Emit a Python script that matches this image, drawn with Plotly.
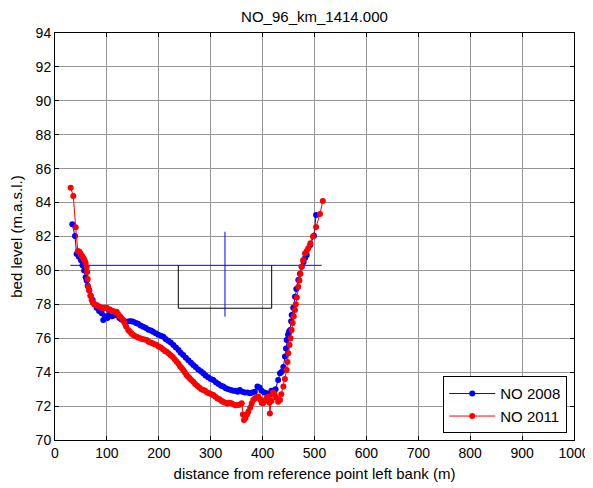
import plotly.graph_objects as go

# NO 2008 survey
x_2008 = [33.4, 38.5, 41.7, 46, 50, 53, 56, 59, 61, 63, 66, 69, 72.5, 76, 80, 85, 90, 93, 97, 101,
          105, 110, 115, 119, 124, 128, 133, 138, 143, 147, 151, 156, 160, 165, 170, 175, 180, 185, 189, 194,
          199, 204, 208.7, 213, 218, 223, 228, 233, 238, 242, 247, 252, 257, 262, 266.5, 271, 276, 281, 285.7, 290,
          295, 300, 305, 310, 315, 320, 324, 329, 334, 339, 343.5, 348, 352, 356, 361, 366, 371, 375.7, 380, 385,
          390, 394, 398, 403, 408, 413, 417, 421, 425, 430, 433.5, 437, 440, 443, 445, 446.4, 449, 451, 453, 455,
          456, 459, 462.4, 465, 468.8, 472, 475.3, 479, 482, 485, 492, 499, 503]
y_2008 = [82.72, 82.03, 80.97, 80.8, 80.6, 80.3, 80.0, 79.6, 79.4, 79.1, 78.85, 78.5, 78.26, 78.0, 77.8, 77.6, 77.47, 77.08, 77.3, 77.2,
          77.4, 77.3, 77.35, 77.37, 77.2, 77.1, 77.0, 76.98, 77.0, 77.0, 76.98, 76.9, 76.85, 76.75, 76.68, 76.6, 76.5, 76.45, 76.39, 76.3,
          76.2, 76.15, 76.09, 75.95, 75.85, 75.75, 75.6, 75.45, 75.3, 75.15, 75.01, 74.85, 74.7, 74.55, 74.42, 74.3, 74.15, 74.05, 73.93, 73.8,
          73.7, 73.6, 73.54, 73.4, 73.3, 73.2, 73.15, 73.05, 73.0, 72.95, 72.91, 72.9, 72.85, 72.95, 72.85, 72.8, 72.8, 72.75, 72.8, 72.85,
          73.15, 73.1, 72.9, 72.8, 72.75, 72.65, 72.9, 72.9, 73.0, 73.54, 73.93, 74.03, 74.3, 74.92, 75.4, 75.9, 76.2, 76.4, 76.49, 77.0,
          77.37, 77.8, 78.45, 78.9, 79.44, 79.8, 80.22, 80.5, 80.75, 80.91, 81.5, 82.05, 83.27]

# NO 2011 survey
x_2011 = [30.2, 35.3, 39.8, 44, 47, 49, 51, 53, 55, 57, 59, 61, 62, 63, 64, 66, 68, 70.6, 73, 76,
          80, 83, 86, 90, 93, 96, 99.6, 103, 106, 109, 112, 116, 119, 122, 125, 128, 131.6, 134, 137, 141,
          144, 147, 150, 153, 157, 160, 164, 168, 172, 176.7, 180, 184, 188, 192, 196, 200, 204, 208, 212, 215,
          219, 223, 227, 231, 234.5, 238, 241, 244, 247, 250, 253, 256, 259, 262, 266.5, 270, 274, 278, 282, 285.7,
          289, 293, 297, 301, 305, 309, 313, 317, 321, 324, 328, 332, 336, 340, 344, 348, 353, 357, 359.7, 362,
          364, 367, 370, 372.5, 376, 379, 382, 385, 388, 391.7, 395, 398, 401, 404, 407, 411, 413, 414, 417, 420,
          423, 426, 430, 433.5, 436, 440, 443, 446.4, 448, 449.5, 452, 454, 456, 458, 460, 462.4, 464, 466, 468.8, 471,
          473, 475.3, 478, 481.7, 485, 488, 492, 497, 503, 510.6, 516]
y_2011 = [84.88, 84.39, 82.54, 81.15, 81.1, 81.0, 80.9, 80.8, 80.7, 80.6, 80.45, 80.2, 79.9, 79.5, 79.04, 78.8, 78.5, 78.26, 78.1, 78.0,
          77.96, 77.9, 77.85, 77.8, 77.75, 77.8, 77.8, 77.7, 77.7, 77.6, 77.6, 77.55, 77.57, 77.4, 77.3, 77.2, 77.08, 76.9, 76.7, 76.49,
          76.4, 76.3, 76.2, 76.15, 76.09, 76.05, 76.0, 75.95, 75.92, 75.9, 75.8, 75.75, 75.7, 75.65, 75.6, 75.5, 75.45, 75.35, 75.25, 75.21,
          75.1, 75.0, 74.9, 74.75, 74.62, 74.5, 74.35, 74.25, 74.13, 74.0, 73.85, 73.75, 73.65, 73.55, 73.44, 73.3, 73.2, 73.1, 73.0, 72.95,
          72.9, 72.8, 72.75, 72.7, 72.66, 72.55, 72.45, 72.4, 72.3, 72.26, 72.2, 72.15, 72.2, 72.17, 72.1, 72.05, 72.07, 72.1, 72.17, 71.5,
          71.18, 71.3, 71.5, 71.67, 71.9, 72.15, 72.36, 72.45, 72.5, 72.56, 72.4, 72.2, 72.17, 72.3, 72.45, 72.56, 72.2, 71.57, 72.3, 72.8,
          72.7, 72.5, 72.26, 72.36, 72.7, 73.15, 73.6, 74.13, 74.6, 75.11, 75.6, 76.0, 76.49, 76.9, 77.3, 77.67, 78.0, 78.4, 79.04, 79.4,
          79.8, 80.22, 80.6, 81.0, 81.15, 81.3, 81.6, 82.0, 82.56, 83.33, 84.1]

# water level line
water_x = [29.5, 514]
water_y = [80.3, 80.3]

# black U-shaped box
box_x = [237.6, 237.6, 417.5, 417.5]
box_y = [80.3, 77.77, 77.77, 80.3]

# vertical blue marker
vline_x = [327.5, 327.5]
vline_y = [82.28, 77.27]

x_ticks = list(range(0, 1001, 100))
y_ticks = list(range(70, 95, 2))

FONT = "Liberation Sans, Arial, sans-serif"

fig = go.Figure()
fig.add_trace(go.Scatter(x=water_x, y=water_y, mode="lines",
                         line=dict(color="#0000ff", width=1), showlegend=False, hoverinfo="skip"))
fig.add_trace(go.Scatter(x=box_x, y=box_y, mode="lines",
                         line=dict(color="black", width=1), showlegend=False, hoverinfo="skip"))
fig.add_trace(go.Scatter(x=vline_x, y=vline_y, mode="lines",
                         line=dict(color="#0000ff", width=1), showlegend=False, hoverinfo="skip"))
fig.add_trace(go.Scatter(x=x_2008, y=y_2008, mode="lines+markers", name="NO 2008",
                         line=dict(color="#0000ff", width=1),
                         marker=dict(color="#0000ff", size=6)))
fig.add_trace(go.Scatter(x=x_2011, y=y_2011, mode="lines+markers", name="NO 2011",
                         line=dict(color="#ff0000", width=1),
                         marker=dict(color="#ff0000", size=6)))

axis_common = dict(showline=True, linecolor="black", linewidth=1, mirror="ticks",
                   ticks="inside", ticklen=4, tickcolor="black", automargin=False,
                   showgrid=True, gridcolor="rgb(150,150,150)", gridwidth=1,
                   zeroline=False, tickfont=dict(size=14, color="black", family=FONT))

fig.update_xaxes(range=[0, 1000], tickvals=x_ticks,
                 title=dict(text="distance from reference point left bank (m)",
                            font=dict(size=15, color="black", family=FONT), standoff=8),
                 **axis_common)
fig.update_yaxes(range=[70, 94], tickvals=y_ticks,
                 title=dict(text="bed level (m.a.s.l.)",
                            font=dict(size=15, color="black", family=FONT), standoff=15),
                 **axis_common)

# page body has an 8px default margin, so the figure is drawn offset by (8, 8)
fig.update_layout(
    width=585, height=480,
    margin=dict(l=47, r=19, t=25, b=48),
    paper_bgcolor="white", plot_bgcolor="white",
    title=dict(text="NO_96_km_1414.000", xref="paper", x=0.5, xanchor="center",
               yref="container", y=1.0, yanchor="top", pad=dict(t=3),
               font=dict(size=15, color="black", family=FONT)),
    font=dict(family=FONT, color="black", size=14),
    legend=dict(x=0.987, xanchor="right", y=0.0165, yanchor="bottom",
                bgcolor="white", bordercolor="black", borderwidth=1,
                font=dict(size=15, color="black", family=FONT),
                itemwidth=46),
    showlegend=True,
)

fig.write_html("out.html")
